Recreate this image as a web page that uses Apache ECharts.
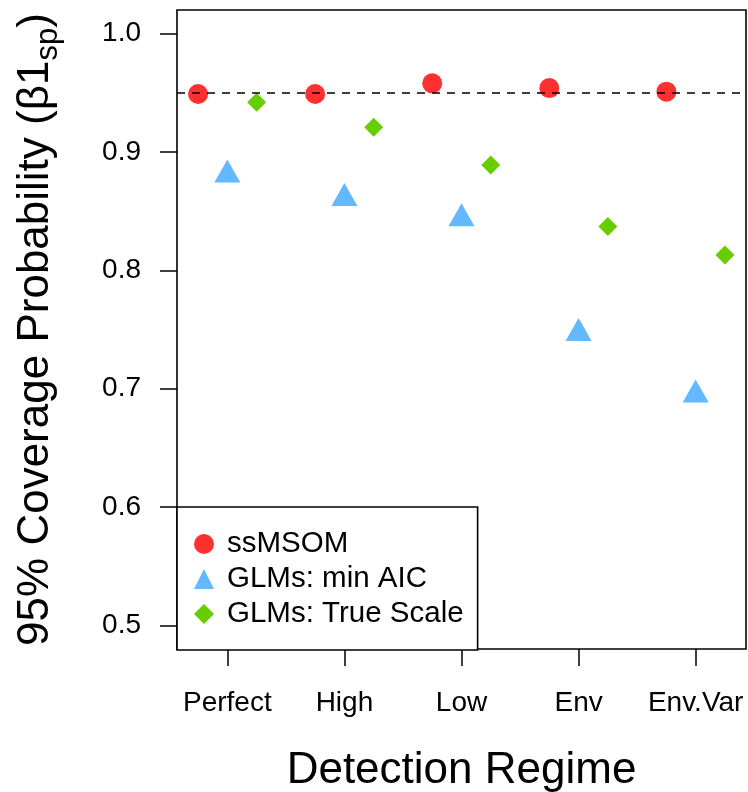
<!DOCTYPE html>
<html>
<head>
<meta charset="utf-8">
<script src="https://cdn.jsdelivr.net/npm/echarts@6/dist/echarts.min.js"></script>
<style>
html,body{margin:0;padding:0;background:#fff;}
#chart{width:748px;height:792px;}
</style>
</head>
<body>
<div id="chart"></div>
<script>
// ---- data ----
const categories = ['Perfect', 'High', 'Low', 'Env', 'Env.Var'];
const ssMSOM = [0.949, 0.949, 0.958, 0.954, 0.951];
const glmMinAIC = [0.884, 0.864, 0.847, 0.750, 0.698];
const glmTrueScale = [0.942, 0.921, 0.889, 0.837, 0.813];
const yTicks = [0.5, 0.6, 0.7, 0.8, 0.9, 1.0];
const nominal = 0.95;
const seriesNames = ['ssMSOM', 'GLMs: min AIC', 'GLMs: True Scale'];

// ---- chart ----
const FONT = 'Liberation Sans';
const xTicks = categories.map((c, i) => i + 1);
function pts(vals, off) { return vals.map((v, i) => [i + 1 + off, v]); }

const chart = echarts.init(document.getElementById('chart'), null, {renderer: 'canvas'});
chart.setOption({
  animation: false,
  backgroundColor: '#fff',
  textStyle: {fontFamily: FONT},
  grid: {left: 177, right: 2, top: 10, bottom: 143, containLabel: false, outerBoundsMode: 'none',
    show: true, borderColor: '#000', borderWidth: 1.6, backgroundColor: 'transparent'},
  xAxis: {
    type: 'value', min: 0.57, max: 5.43,
    axisLine: {show: false},
    splitLine: {show: false},
    axisTick: {show: true, customValues: xTicks, length: 17, lineStyle: {color: '#000', width: 1.5}},
    axisLabel: {customValues: xTicks, margin: 40, fontSize: 28, color: '#000', fontFamily: FONT,
      formatter: v => categories[Math.round(v) - 1] || ''},
    name: 'Detection Regime', nameLocation: 'middle', nameGap: 100,
    nameTextStyle: {fontSize: 44, color: '#000', fontFamily: FONT}
  },
  yAxis: {
    type: 'value', min: 0.48, max: 1.02,
    axisLine: {show: false},
    splitLine: {show: false},
    axisTick: {show: true, customValues: yTicks, length: 17, lineStyle: {color: '#000', width: 1.5}},
    axisLabel: {customValues: yTicks, margin: 36, fontSize: 28, color: '#000', fontFamily: FONT,
      formatter: v => v.toFixed(1)},
    name: '{a|95% Coverage Probability (β1}{b|sp}{a|)}', nameLocation: 'middle', nameGap: 113, nameRotate: 90,
    nameTextStyle: {color: '#000', fontFamily: FONT,
      rich: {
        a: {fontSize: 44, color: '#000', fontFamily: FONT, padding: [0, 0, 6, 0]},
        b: {fontSize: 31, color: '#000', fontFamily: FONT, padding: [19, 0, 0, 0]}
      }}
  },
  legend: {
    orient: 'vertical', left: 177, top: 507,
    padding: [22, 14, 21, 17],
    itemGap: 5, itemWidth: 20, itemHeight: 20,
    borderColor: '#000', borderWidth: 1.6, backgroundColor: '#fff',
    textStyle: {fontSize: 29.5, color: '#000', fontFamily: FONT, padding: [0, 0, 0, 8]},
    data: seriesNames
  },
  series: [
    {
      name: seriesNames[0], type: 'scatter', symbol: 'circle', symbolSize: 20,
      itemStyle: {color: '#FF3030', opacity: 1},
      data: pts(ssMSOM, -0.25), z: 3,
      markLine: {silent: true, symbol: 'none', label: {show: false},
        lineStyle: {color: '#000', type: [8, 7], width: 1.6},
        data: [{yAxis: nominal}]}
    },
    {
      name: seriesNames[1], type: 'scatter', symbol: 'triangle', symbolSize: [26, 23],
      itemStyle: {color: '#63B8FF', opacity: 1},
      data: pts(glmMinAIC, 0)
    },
    {
      name: seriesNames[2], type: 'scatter', symbol: 'diamond', symbolSize: 19,
      itemStyle: {color: '#66CD00', opacity: 1},
      data: pts(glmTrueScale, 0.25)
    }
  ]
});
</script>
</body>
</html>
